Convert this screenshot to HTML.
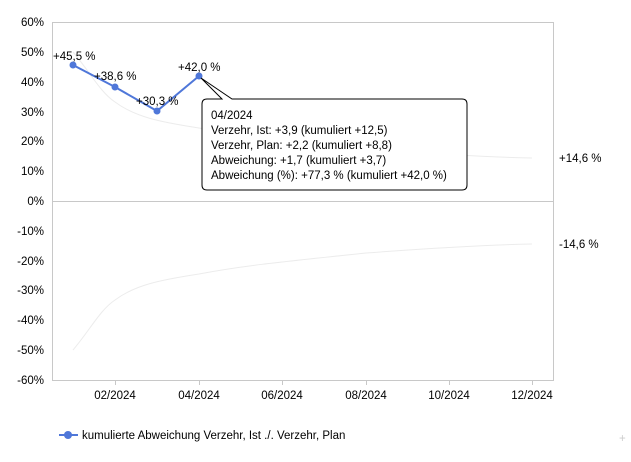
<!DOCTYPE html>
<html><head><meta charset="utf-8"><style>
body{margin:0;background:#fff;width:631px;height:457px;overflow:hidden}
svg text{font-family:"Liberation Sans",sans-serif;font-size:11.5px;fill:#000}
</style></head><body>
<svg width="631" height="457" xmlns="http://www.w3.org/2000/svg">
<rect x="52.5" y="22.5" width="501" height="358" fill="none" stroke="#c8c8c8"/>
<line x1="52" y1="201.5" x2="553" y2="201.5" stroke="#c8c8c8"/>
<g text-anchor="end">
<text x="44" y="26">60%</text><text x="44" y="56">50%</text><text x="44" y="86">40%</text>
<text x="44" y="116">30%</text><text x="44" y="145">20%</text><text x="44" y="175">10%</text>
<text x="44" y="205">0%</text><text x="44" y="235">-10%</text><text x="44" y="265">-20%</text>
<text x="44" y="294">-30%</text><text x="44" y="324">-40%</text><text x="44" y="354">-50%</text>
<text x="44" y="384">-60%</text>
</g>
<g stroke="#c8c8c8">
<line x1="115.5" y1="380" x2="115.5" y2="385"/><line x1="199.5" y1="380" x2="199.5" y2="385"/>
<line x1="282.5" y1="380" x2="282.5" y2="385"/><line x1="366.5" y1="380" x2="366.5" y2="385"/>
<line x1="449.5" y1="380" x2="449.5" y2="385"/><line x1="532.5" y1="380" x2="532.5" y2="385"/>
</g>
<g text-anchor="middle">
<text x="115" y="399">02/2024</text><text x="199" y="399">04/2024</text><text x="282" y="399">06/2024</text>
<text x="366" y="399">08/2024</text><text x="449" y="399">10/2024</text><text x="532" y="399">12/2024</text>
</g>
<path d="M73,350 C90,330 100,310 115,300 C135,285 160,280 199,274 C240,266 280,262 366,253 C420,249 480,245 532,244" fill="none" stroke="#ececec"/>
<path d="M73,52 C90,72 100,92 115,102 C135,117 160,122 199,128 C240,136 280,140 366,149 C420,153 480,157 532,158" fill="none" stroke="#ececec"/>
<text x="559" y="162">+14,6 %</text>
<text x="559" y="248">-14,6 %</text>
<polyline points="73,65 115,87 157,111 199,76" fill="none" stroke="#4f77d9" stroke-width="2"/>
<g fill="#4f77d9"><circle cx="73" cy="65" r="3.5"/><circle cx="115" cy="87" r="3.5"/><circle cx="157" cy="111" r="3.5"/><circle cx="199" cy="76" r="3.5"/></g>
<text x="53" y="60">+45,5 %</text><text x="94" y="80">+38,6 %</text><text x="136" y="105">+30,3 %</text><text x="178" y="71">+42,0 %</text>
<path d="M207,99 L222,99 L201,78 L232,99 L462,99 Q467,99 467,104 L467,185 Q467,190 462,190 L207,190 Q202,190 202,185 L202,104 Q202,99 207,99 Z" fill="#fff" stroke="#000"/>
<text x="211" y="119">04/2024</text>
<text x="211" y="134">Verzehr, Ist: +3,9 (kumuliert +12,5)</text>
<text x="211" y="149">Verzehr, Plan: +2,2 (kumuliert +8,8)</text>
<text x="211" y="164">Abweichung: +1,7 (kumuliert +3,7)</text>
<text x="211" y="179">Abweichung (%): +77,3 % (kumuliert +42,0 %)</text>
<line x1="59" y1="435" x2="78" y2="435" stroke="#4f77d9" stroke-width="2"/>
<circle cx="68" cy="435" r="4" fill="#4f77d9"/>
<text x="82" y="439">kumulierte Abweichung Verzehr, Ist ./. Verzehr, Plan</text>
<text x="619" y="442" fill="#ccc" style="fill:#ccc">+</text>
</svg>
</body></html>
